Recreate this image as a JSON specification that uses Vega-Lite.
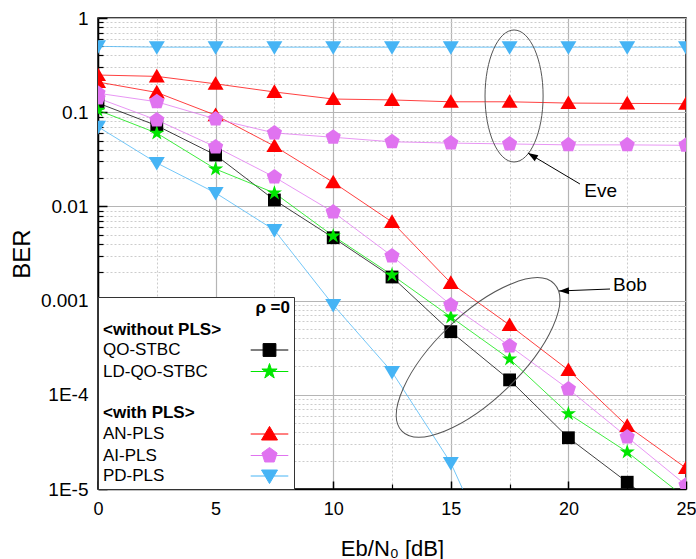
{
  "$schema": "https://vega.github.io/schema/vega-lite/v6.json",
  "width": 588,
  "height": 471,
  "autosize": {"type": "none"},
  "padding": {"left": 98, "top": 18, "right": 10, "bottom": 70},
  "background": "white",
  "config": {
    "font": "Liberation Sans",
    "view": {"stroke": "black", "strokeWidth": 1.5},
    "legend": {
      "orient": "bottom-left", "offset": 0,
      "titleFontSize": 17, "titleFontWeight": "bold", "titleColor": "black",
      "titleAnchor": "end", "titlePadding": 4,
      "labelFontSize": 17, "labelColor": "black", "labelLimit": 300,
      "rowPadding": 2.5, "padding": 3, "symbolSize": 256,
      "fillColor": "white", "strokeColor": "#333333"
    }
  },
  "datasets": {
    "curves": [
      {"curve": "QO-STBC", "series": "QO-STBC", "x": 0, "ber": 0.125},
      {"curve": "QO-STBC", "series": "QO-STBC", "x": 2.5, "ber": 0.072},
      {"curve": "QO-STBC", "series": "QO-STBC", "x": 5, "ber": 0.0351},
      {"curve": "QO-STBC", "series": "QO-STBC", "x": 7.5, "ber": 0.0117},
      {"curve": "QO-STBC", "series": "QO-STBC", "x": 10, "ber": 0.00465},
      {"curve": "QO-STBC", "series": "QO-STBC", "x": 12.5, "ber": 0.00178},
      {"curve": "QO-STBC", "series": "QO-STBC", "x": 15, "ber": 0.000468},
      {"curve": "QO-STBC", "series": "QO-STBC", "x": 17.5, "ber": 0.000144},
      {"curve": "QO-STBC", "series": "QO-STBC", "x": 20, "ber": 0.000035},
      {"curve": "QO-STBC", "series": "QO-STBC", "x": 22.5, "ber": 0.0000118},
      {"curve": "QO-STBC", "series": "QO-STBC", "x": 25, "ber": 0.0000038},
      {"curve": "LD-QO-STBC", "series": "LD-QO-STBC", "x": 0, "ber": 0.105},
      {"curve": "LD-QO-STBC", "series": "LD-QO-STBC", "x": 2.5, "ber": 0.06},
      {"curve": "LD-QO-STBC", "series": "LD-QO-STBC", "x": 5, "ber": 0.0249},
      {"curve": "LD-QO-STBC", "series": "LD-QO-STBC", "x": 7.5, "ber": 0.0139},
      {"curve": "LD-QO-STBC", "series": "LD-QO-STBC", "x": 10, "ber": 0.00485},
      {"curve": "LD-QO-STBC", "series": "LD-QO-STBC", "x": 12.5, "ber": 0.00187},
      {"curve": "LD-QO-STBC", "series": "LD-QO-STBC", "x": 15, "ber": 0.00067},
      {"curve": "LD-QO-STBC", "series": "LD-QO-STBC", "x": 17.5, "ber": 0.00024},
      {"curve": "LD-QO-STBC", "series": "LD-QO-STBC", "x": 20, "ber": 0.000063},
      {"curve": "LD-QO-STBC", "series": "LD-QO-STBC", "x": 22.5, "ber": 0.0000247},
      {"curve": "LD-QO-STBC", "series": "LD-QO-STBC", "x": 25, "ber": 0.000008},
      {"curve": "AN-PLS Eve", "series": "AN-PLS", "x": 0, "ber": 0.248},
      {"curve": "AN-PLS Eve", "series": "AN-PLS", "x": 2.5, "ber": 0.24},
      {"curve": "AN-PLS Eve", "series": "AN-PLS", "x": 5, "ber": 0.2},
      {"curve": "AN-PLS Eve", "series": "AN-PLS", "x": 7.5, "ber": 0.164},
      {"curve": "AN-PLS Eve", "series": "AN-PLS", "x": 10, "ber": 0.138},
      {"curve": "AN-PLS Eve", "series": "AN-PLS", "x": 12.5, "ber": 0.135},
      {"curve": "AN-PLS Eve", "series": "AN-PLS", "x": 15, "ber": 0.129},
      {"curve": "AN-PLS Eve", "series": "AN-PLS", "x": 17.5, "ber": 0.129},
      {"curve": "AN-PLS Eve", "series": "AN-PLS", "x": 20, "ber": 0.125},
      {"curve": "AN-PLS Eve", "series": "AN-PLS", "x": 22.5, "ber": 0.124},
      {"curve": "AN-PLS Eve", "series": "AN-PLS", "x": 25, "ber": 0.123},
      {"curve": "AN-PLS Bob", "series": "AN-PLS", "x": 0, "ber": 0.209},
      {"curve": "AN-PLS Bob", "series": "AN-PLS", "x": 2.5, "ber": 0.162},
      {"curve": "AN-PLS Bob", "series": "AN-PLS", "x": 5, "ber": 0.093},
      {"curve": "AN-PLS Bob", "series": "AN-PLS", "x": 7.5, "ber": 0.0437},
      {"curve": "AN-PLS Bob", "series": "AN-PLS", "x": 10, "ber": 0.018},
      {"curve": "AN-PLS Bob", "series": "AN-PLS", "x": 12.5, "ber": 0.00684},
      {"curve": "AN-PLS Bob", "series": "AN-PLS", "x": 15, "ber": 0.00154},
      {"curve": "AN-PLS Bob", "series": "AN-PLS", "x": 17.5, "ber": 0.00055},
      {"curve": "AN-PLS Bob", "series": "AN-PLS", "x": 20, "ber": 0.000183},
      {"curve": "AN-PLS Bob", "series": "AN-PLS", "x": 22.5, "ber": 0.0000467},
      {"curve": "AN-PLS Bob", "series": "AN-PLS", "x": 25, "ber": 0.0000167},
      {"curve": "AI-PLS Eve", "series": "AI-PLS", "x": 0, "ber": 0.159},
      {"curve": "AI-PLS Eve", "series": "AI-PLS", "x": 2.5, "ber": 0.129},
      {"curve": "AI-PLS Eve", "series": "AI-PLS", "x": 5, "ber": 0.0847},
      {"curve": "AI-PLS Eve", "series": "AI-PLS", "x": 7.5, "ber": 0.0602},
      {"curve": "AI-PLS Eve", "series": "AI-PLS", "x": 10, "ber": 0.0542},
      {"curve": "AI-PLS Eve", "series": "AI-PLS", "x": 12.5, "ber": 0.0485},
      {"curve": "AI-PLS Eve", "series": "AI-PLS", "x": 15, "ber": 0.047},
      {"curve": "AI-PLS Eve", "series": "AI-PLS", "x": 17.5, "ber": 0.046},
      {"curve": "AI-PLS Eve", "series": "AI-PLS", "x": 20, "ber": 0.045},
      {"curve": "AI-PLS Eve", "series": "AI-PLS", "x": 22.5, "ber": 0.045},
      {"curve": "AI-PLS Eve", "series": "AI-PLS", "x": 25, "ber": 0.0445},
      {"curve": "AI-PLS Bob", "series": "AI-PLS", "x": 0, "ber": 0.141},
      {"curve": "AI-PLS Bob", "series": "AI-PLS", "x": 2.5, "ber": 0.0826},
      {"curve": "AI-PLS Bob", "series": "AI-PLS", "x": 5, "ber": 0.0428},
      {"curve": "AI-PLS Bob", "series": "AI-PLS", "x": 7.5, "ber": 0.0205},
      {"curve": "AI-PLS Bob", "series": "AI-PLS", "x": 10, "ber": 0.0087},
      {"curve": "AI-PLS Bob", "series": "AI-PLS", "x": 12.5, "ber": 0.00297},
      {"curve": "AI-PLS Bob", "series": "AI-PLS", "x": 15, "ber": 0.0009},
      {"curve": "AI-PLS Bob", "series": "AI-PLS", "x": 17.5, "ber": 0.00033},
      {"curve": "AI-PLS Bob", "series": "AI-PLS", "x": 20, "ber": 0.000115},
      {"curve": "AI-PLS Bob", "series": "AI-PLS", "x": 22.5, "ber": 0.0000356},
      {"curve": "AI-PLS Bob", "series": "AI-PLS", "x": 25, "ber": 0.000011},
      {"curve": "PD-PLS Eve", "series": "PD-PLS", "x": 0, "ber": 0.5},
      {"curve": "PD-PLS Eve", "series": "PD-PLS", "x": 2.5, "ber": 0.49},
      {"curve": "PD-PLS Eve", "series": "PD-PLS", "x": 5, "ber": 0.49},
      {"curve": "PD-PLS Eve", "series": "PD-PLS", "x": 7.5, "ber": 0.49},
      {"curve": "PD-PLS Eve", "series": "PD-PLS", "x": 10, "ber": 0.49},
      {"curve": "PD-PLS Eve", "series": "PD-PLS", "x": 12.5, "ber": 0.49},
      {"curve": "PD-PLS Eve", "series": "PD-PLS", "x": 15, "ber": 0.49},
      {"curve": "PD-PLS Eve", "series": "PD-PLS", "x": 17.5, "ber": 0.49},
      {"curve": "PD-PLS Eve", "series": "PD-PLS", "x": 20, "ber": 0.49},
      {"curve": "PD-PLS Eve", "series": "PD-PLS", "x": 22.5, "ber": 0.49},
      {"curve": "PD-PLS Eve", "series": "PD-PLS", "x": 25, "ber": 0.49},
      {"curve": "PD-PLS Bob", "series": "PD-PLS", "x": 0, "ber": 0.07},
      {"curve": "PD-PLS Bob", "series": "PD-PLS", "x": 2.5, "ber": 0.0289},
      {"curve": "PD-PLS Bob", "series": "PD-PLS", "x": 5, "ber": 0.0139},
      {"curve": "PD-PLS Bob", "series": "PD-PLS", "x": 7.5, "ber": 0.0056},
      {"curve": "PD-PLS Bob", "series": "PD-PLS", "x": 10, "ber": 0.0009},
      {"curve": "PD-PLS Bob", "series": "PD-PLS", "x": 12.5, "ber": 0.000175},
      {"curve": "PD-PLS Bob", "series": "PD-PLS", "x": 15, "ber": 0.0000189},
      {"curve": "PD-PLS Bob", "series": "PD-PLS", "x": 17.5, "ber": 0.0000008}
    ],
    "notes": [
      {"name": "Eve", "ellipse_x": 17.69, "ellipse_ber": 0.1486, "text_x": 21.37, "text_ber": 0.01468, "tail_x": 20.49, "tail_ber": 0.01729, "head_x": 18.28, "head_ber": 0.03687},
      {"name": "Bob", "ellipse_x": 16.16, "ellipse_ber": 0.000249, "text_x": 22.62, "text_ber": 0.00146, "tail_x": 21.77, "tail_ber": 0.001327, "head_x": 19.6, "head_ber": 0.001265}
    ]
  },
  "layer": [
    {
      "data": {"name": "curves"},
      "mark": {"type": "line", "strokeWidth": 1, "opacity": 0.75, "clip": true},
      "encoding": {
        "x": {
          "field": "x", "type": "quantitative",
          "scale": {"domain": [0, 25], "nice": false, "zero": false},
          "axis": {
            "orient": "bottom", "values": [2.5, 7.5, 12.5, 17.5, 22.5],
            "labels": false, "title": null, "domain": false,
            "grid": true, "gridColor": "#cccccc", "gridDash": [2, 2], "gridWidth": 1,
            "ticks": true, "tickSize": -5, "tickColor": "black", "tickWidth": 1.2
          }
        },
        "y": {
          "field": "ber", "type": "quantitative",
          "scale": {"type": "log", "domain": [0.00001, 1], "nice": false},
          "axis": {
            "orient": "left",
            "values": [0.00002, 0.00003, 0.00004, 0.00005, 0.00006, 0.00007, 0.00008, 0.00009,
                       0.0002, 0.0003, 0.0004, 0.0005, 0.0006, 0.0007, 0.0008, 0.0009,
                       0.002, 0.003, 0.004, 0.005, 0.006, 0.007, 0.008, 0.009,
                       0.02, 0.03, 0.04, 0.05, 0.06, 0.07, 0.08, 0.09,
                       0.2, 0.3, 0.4, 0.5, 0.6, 0.7, 0.8, 0.9],
            "labels": false, "title": null, "domain": false,
            "grid": true, "gridColor": "#cccccc", "gridDash": [2, 2], "gridWidth": 1,
            "ticks": true, "tickSize": -5, "tickColor": "black", "tickWidth": 1.2
          }
        },
        "color": {
          "field": "series", "type": "nominal",
          "scale": {
            "domain": ["<without PLS>", "QO-STBC", "LD-QO-STBC", " ", "<with PLS>", "AN-PLS", "AI-PLS", "PD-PLS"],
            "range": ["transparent", "#000000", "#00e600", "transparent", "transparent", "#ff0000", "#e073f0", "#46b4f5"]
          },
          "legend": {
            "title": "ρ =0",
            "symbolType": {"expr": "indexof(['<without PLS>', ' ', '<with PLS>'], datum.value) >= 0 ? 'M0,0' : 'M-2.35,0H-0.5M0.5,0H2.35' + scale('shape', datum.value)"},
            "symbolFillColor": {"expr": "scale('color', datum.value)"},
            "symbolStrokeColor": {"expr": "scale('color', datum.value)"},
            "symbolStrokeWidth": 1,
            "symbolOpacity": 1,
            "symbolSize": 256,
            "symbolOffset": 160,
            "labelOffset": -175,
            "labelFontWeight": {"expr": "indexof(datum.label, '<') == 0 ? 'bold' : 'normal'"}
          }
        },
        "detail": {"field": "curve"}
      }
    },
    {
      "data": {"name": "curves"},
      "mark": {"type": "point", "filled": true, "size": 256, "opacity": 1, "clip": true},
      "encoding": {
        "x": {
          "field": "x", "type": "quantitative",
          "scale": {"domain": [0, 25], "nice": false, "zero": false},
          "axis": {
            "orient": "bottom", "values": [0, 5, 10, 15, 20, 25],
            "grid": true, "gridColor": "#b5b5b5", "gridWidth": 1.2,
            "tickSize": -8, "tickWidth": 1.5, "tickColor": "black",
            "domain": true, "domainColor": "black", "domainWidth": 1.5,
            "labelFontSize": 18, "labelColor": "black", "labelPadding": 19,
            "labelFlush": false, "labelOverlap": false,
            "title": "Eb/N₀ [dB]", "titleFontSize": 22, "titleFontWeight": "normal",
            "titleColor": "black", "titlePadding": 20
          }
        },
        "y": {
          "field": "ber", "type": "quantitative",
          "scale": {"type": "log", "domain": [0.00001, 1], "nice": false},
          "axis": {
            "orient": "left", "values": [0.00001, 0.0001, 0.001, 0.01, 0.1, 1],
            "labelExpr": "datum.value < 5e-5 ? '1E-5' : datum.value < 5e-4 ? '1E-4' : datum.value < 5e-3 ? '0.001' : datum.value < 5e-2 ? '0.01' : datum.value < 0.5 ? '0.1' : '1'",
            "grid": true, "gridColor": "#b5b5b5", "gridWidth": 1.2,
            "tickSize": -9, "tickWidth": 1.5, "tickColor": "black",
            "domain": true, "domainColor": "black", "domainWidth": 1.5,
            "labelFontSize": 19, "labelColor": "black", "labelPadding": 19,
            "labelFlush": false, "labelOverlap": false,
            "title": "BER", "titleFontSize": 24, "titleFontWeight": "normal",
            "titleColor": "black", "titlePadding": 6
          }
        },
        "color": {
          "field": "series", "type": "nominal",
          "scale": {
            "domain": ["<without PLS>", "QO-STBC", "LD-QO-STBC", " ", "<with PLS>", "AN-PLS", "AI-PLS", "PD-PLS"],
            "range": ["transparent", "#000000", "#00e600", "transparent", "transparent", "#ff0000", "#e073f0", "#46b4f5"]
          },
          "legend": {
            "title": "ρ =0",
            "symbolType": {"expr": "indexof(['<without PLS>', ' ', '<with PLS>'], datum.value) >= 0 ? 'M0,0' : 'M-2.35,0H-0.5M0.5,0H2.35' + scale('shape', datum.value)"},
            "symbolFillColor": {"expr": "scale('color', datum.value)"},
            "symbolStrokeColor": {"expr": "scale('color', datum.value)"},
            "symbolStrokeWidth": 1,
            "symbolOpacity": 1,
            "symbolSize": 256,
            "symbolOffset": 160,
            "labelOffset": -175,
            "labelFontWeight": {"expr": "indexof(datum.label, '<') == 0 ? 'bold' : 'normal'"}
          }
        },
        "shape": {
          "field": "series", "type": "nominal",
          "scale": {
            "domain": ["QO-STBC", "LD-QO-STBC", "AN-PLS", "AI-PLS", "PD-PLS"],
            "range": [
              "M-0.8,-0.8H0.8V0.8H-0.8Z",
              "M0,-1L0.225,-0.309L0.951,-0.309L0.363,0.118L0.588,0.809L0,0.382L-0.588,0.809L-0.363,0.118L-0.951,-0.309L-0.225,-0.309Z",
              "M0,-0.95L1,0.75L-1,0.75Z",
              "M0,-1L0.951,-0.309L0.588,0.809L-0.588,0.809L-0.951,-0.309Z",
              "M0,0.95L1,-0.75L-1,-0.75Z"
            ]
          },
          "legend": null
        }
      }
    },
    {
      "data": {"name": "notes"},
      "mark": {"type": "point", "filled": false, "stroke": "#555555", "strokeWidth": 1, "opacity": 1},
      "encoding": {
        "x": {"field": "ellipse_x", "type": "quantitative", "scale": {"domain": [0, 25], "nice": false, "zero": false}, "axis": null},
        "y": {"field": "ellipse_ber", "type": "quantitative", "scale": {"type": "log", "domain": [0.00001, 1], "nice": false}, "axis": null},
        "shape": {
          "condition": {"test": "datum.name === 'Bob'", "value": "M0,-1C0.221,-1 0.4,-0.552 0.4,0C0.4,0.552 0.221,1 0,1C-0.221,1 -0.4,0.552 -0.4,0C-0.4,-0.552 -0.221,-1 0,-1Z"},
          "value": "M0,-1C0.243,-1 0.44,-0.552 0.44,0C0.44,0.552 0.243,1 0,1C-0.243,1 -0.44,0.552 -0.44,0C-0.44,-0.552 -0.243,-1 0,-1Z"
        },
        "size": {"condition": {"test": "datum.name === 'Bob'", "value": 44860}, "value": 17424},
        "angle": {"condition": {"test": "datum.name === 'Bob'", "value": 46}, "value": 0}
      }
    },
    {
      "data": {"name": "notes"},
      "mark": {"type": "rule", "color": "black", "strokeWidth": 1},
      "encoding": {
        "x": {"field": "tail_x", "type": "quantitative", "scale": {"domain": [0, 25], "nice": false, "zero": false}, "axis": null},
        "y": {"field": "tail_ber", "type": "quantitative", "scale": {"type": "log", "domain": [0.00001, 1], "nice": false}, "axis": null},
        "x2": {"field": "head_x"},
        "y2": {"field": "head_ber"}
      }
    },
    {
      "data": {"name": "notes"},
      "mark": {"type": "point", "filled": true, "color": "black", "opacity": 1, "shape": "M0,0L-0.35,1L0.35,1Z", "size": 400},
      "encoding": {
        "x": {"field": "head_x", "type": "quantitative", "scale": {"domain": [0, 25], "nice": false, "zero": false}, "axis": null},
        "y": {"field": "head_ber", "type": "quantitative", "scale": {"type": "log", "domain": [0.00001, 1], "nice": false}, "axis": null},
        "angle": {"condition": {"test": "datum.name === 'Bob'", "value": 268}, "value": 301}
      }
    },
    {
      "data": {"name": "notes"},
      "mark": {"type": "text", "fontSize": 19, "color": "black", "align": "center", "baseline": "middle"},
      "encoding": {
        "x": {"field": "text_x", "type": "quantitative", "scale": {"domain": [0, 25], "nice": false, "zero": false}, "axis": null},
        "y": {"field": "text_ber", "type": "quantitative", "scale": {"type": "log", "domain": [0.00001, 1], "nice": false}, "axis": null},
        "text": {"field": "name"}
      }
    }
  ],
  "resolve": {"axis": {"x": "independent", "y": "independent"}}
}
